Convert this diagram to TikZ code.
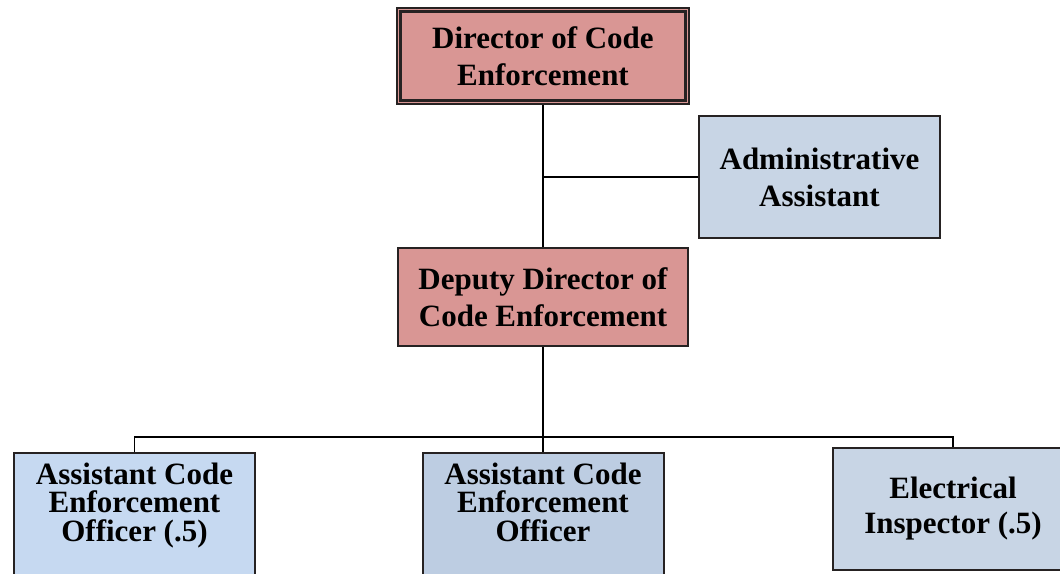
\documentclass[tikz,border=0pt]{standalone}
\usepackage{fontspec}
\setmainfont{Liberation Serif}
\usepackage{tikz}
\usetikzlibrary{calc, positioning}
\usepackage{xcolor}

\definecolor{HeadRed}{RGB}{217,150,148}
\definecolor{StaffBlue}{RGB}{198,217,241}
\definecolor{OfficerBlue}{RGB}{189,205,226}
\definecolor{AdminBlue}{RGB}{200,213,229}
\definecolor{BoxLine}{RGB}{38,34,34}

\tikzset{
  orgbox/.style={draw=BoxLine, line width=2pt, align=center, inner sep=0pt,
                 font=\fontsize{31}{37}\selectfont\bfseries},
  headbox/.style={orgbox, fill=HeadRed},
  staffbox/.style={orgbox, minimum width=241pt, minimum height=122pt},
  % the lower row runs off the page, so the text sits near the top
  rowbox/.style={orgbox, anchor=north, minimum width=241pt,
                 font=\fontsize{31}{28.5}\selectfont\bfseries,
                 text height=88pt, text depth=60pt},
  link/.style={line width=1.5pt, black}
}

\begin{document}
\begin{tikzpicture}[x=1pt, y=-1pt]
  \clip (0,0) rectangle (1060,573);

  % top of the chart
  \node[headbox, line width=1.5pt, minimum width=292pt, minimum height=96pt]
    (dir) at (543,56) {Director of Code\\Enforcement};
  \draw[BoxLine, line width=2.6pt]
    ($(dir.north west)+(4,4)$) rectangle ($(dir.south east)+(-4,-4)$);

  \node[staffbox, fill=AdminBlue] (adm) at (819.5,177)
    {Administrative\\Assistant};

  \node[headbox, minimum width=290pt, minimum height=98pt]
    (dep) at (543,297) {Deputy Director of\\Code Enforcement};

  % lower row
  \node[rowbox, fill=StaffBlue] (aceoA) at (134.5,452)
    {Assistant Code\\Enforcement\\Officer (.5)};
  \node[rowbox, fill=OfficerBlue] (aceoB) at (543,452)
    {Assistant Code\\Enforcement\\Officer};
  \node[staffbox, fill=AdminBlue, font=\fontsize{31}{35}\selectfont\bfseries]
    (elec) at (953,509) {Electrical\\Inspector (.5)};

  \coordinate (bus) at (543,437);

  % connectors
  \draw[link] (dir.south) -- (dep.north);
  \draw[link] (adm.west) -- (adm.west -| dir.south);
  \draw[link] (dep.south) -- (aceoB.north);
  \draw[link] (aceoA.north) -- (aceoA.north |- bus) -- (elec.north |- bus)
    -- (elec.north);
\end{tikzpicture}
\end{document}
